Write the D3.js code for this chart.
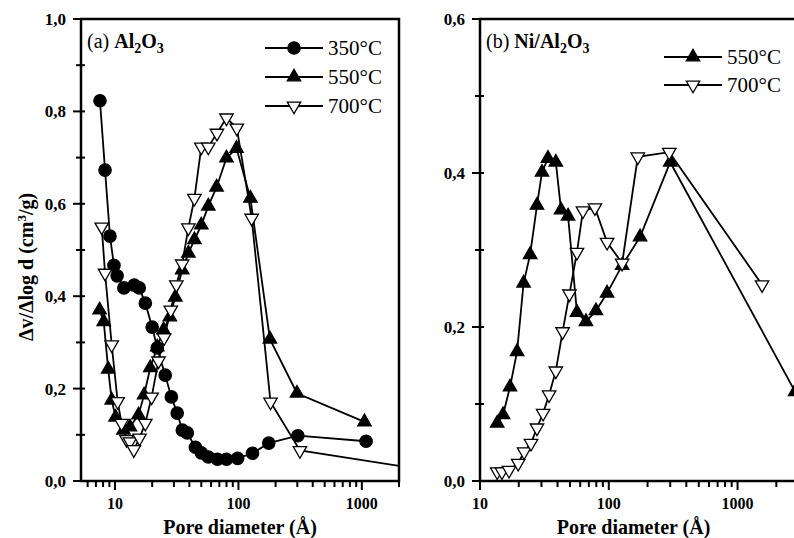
<!DOCTYPE html>
<html>
<head>
<meta charset="utf-8">
<script src="https://cdn.jsdelivr.net/npm/d3@7"></script>
<style>
  body { margin: 0; background: #fff; }
  svg { display: block; }
  text { font-family: "Liberation Serif", "Times New Roman", serif; fill: #000; }
</style>
</head>
<body>
<div id="chart"></div>
<script>
// Panel (a) Al2O3 : [pore diameter (Å), dv/dlog d]
const a350 = [[7.55,0.823],[8.3,0.673],[9.1,0.53],[9.8,0.467],[10.4,0.444],[11.8,0.418],[14.3,0.424],[15.7,0.418],
  [17.6,0.385],[20,0.333],[22,0.288],[25.5,0.229],[28.6,0.182],[31.9,0.147],[35.1,0.11],[38.5,0.104],[44.8,0.073],
  [50,0.061],[57,0.052],[67.6,0.047],[80,0.047],[98.5,0.049],[130,0.06],[176,0.082],[303,0.098],[1082,0.086]];
const a550 = [[7.5,0.37],[8.1,0.345],[8.8,0.242],[9.4,0.175],[10.1,0.138],[11.7,0.11],[13.2,0.117],[15.5,0.143],
  [17.2,0.186],[19.3,0.245],[22,0.29],[24.7,0.327],[27.8,0.355],[30.8,0.398],[35,0.457],[39.3,0.493],[44,0.522],
  [50,0.554],[57,0.595],[66.5,0.636],[80,0.699],[96.5,0.72],[125,0.612],[180,0.307],[298,0.19],[1050,0.128]];
const a700 = [[7.8,0.55],[8.3,0.45],[9.4,0.295],[10.5,0.172],[11.3,0.125],[12.4,0.09],[13.2,0.085],[14.2,0.068],
  [15.8,0.093],[17.6,0.125],[19.8,0.182],[22.5,0.26],[25,0.31],[28.3,0.37],[31.4,0.425],[35,0.47],[39.3,0.548],
  [44,0.612],[50,0.723],[57,0.723],[67,0.753],[80,0.786],[97,0.764],[128,0.569],[182,0.171],[315,0.066],[4000,0.02]];

// Panel (b) Ni/Al2O3
const b550 = [[13.6,0.075],[15.1,0.086],[17.1,0.122],[19.4,0.168],[21.8,0.257],[24.5,0.294],[27.7,0.358],[30.3,0.401],
  [33.7,0.419],[38.8,0.414],[42.6,0.352],[48.3,0.344],[56.6,0.219],[66.5,0.207],[79.5,0.221],[97,0.244],[127,0.28],
  [175,0.317],[300,0.414],[2800,0.116]];
const b700 = [[13.6,0.012],[14.8,0.012],[16.8,0.014],[19.8,0.023],[22,0.038],[24.9,0.049],[27.7,0.069],[30.9,0.088],
  [34.4,0.112],[38.8,0.143],[43.8,0.194],[49.5,0.243],[56.6,0.297],[63,0.351],[78,0.355],[97,0.31],[127,0.283],
  [168,0.421],[295,0.427],[1550,0.255]];

const xMajor = [10, 100, 1000];
const legendA = ["350\u00B0C", "550\u00B0C", "700\u00B0C"];
const legendB = ["550\u00B0C", "700\u00B0C"];

const W = 794, H = 538;
const svg = d3.select("#chart").append("svg").attr("width", W).attr("height", H);

const markers = {
  circle: { type: d3.symbolCircle, size: 120, fill: "#000", rot: 0 },
  up: { type: d3.symbolTriangle, size: 78, fill: "#000", rot: 0 },
  down: { type: d3.symbolTriangle, size: 78, fill: "#fff", rot: 180 }
};

const fmt = v => d3.format(".1f")(v).replace(".", ",");

function drawPanel(p) {
  const g = svg.append("g");
  const x = d3.scaleLog().domain(p.xDomain).range([p.left, p.right]);
  const y = d3.scaleLinear().domain([0, p.yMax]).range([p.bottom, p.top]);

  const clipId = "clip-" + p.id;
  svg.append("clipPath").attr("id", clipId)
    .append("rect").attr("x", p.left).attr("y", p.top - 10)
    .attr("width", p.right - p.left).attr("height", p.bottom - p.top + 10);

  // y ticks
  const yMinor = d3.range(0, p.yMax + 0.001, 0.1);
  g.selectAll(".ytick").data(yMinor).join("line")
    .attr("x1", (d, i) => p.left - (i % 2 === 0 ? 8 : 5)).attr("x2", p.left + 4)
    .attr("y1", d => y(d)).attr("y2", d => y(d))
    .attr("stroke", "#000").attr("stroke-width", 2);
  g.selectAll(".ylab").data(yMinor.filter((d, i) => i % 2 === 0)).join("text")
    .attr("x", p.left - 15).attr("y", d => y(d) + 6)
    .attr("text-anchor", "end").attr("font-size", 17).attr("font-weight", "bold")
    .text(fmt);

  // x ticks (log, minor at 2..9)
  const lo = p.xDomain[0], hi = p.xDomain[1];
  const xt = [];
  for (let dec = 1; dec <= 1000; dec *= 10) {
    for (let k = 1; k <= 9; k++) {
      const v = k * dec;
      if (v >= lo && v <= hi) xt.push(v);
    }
  }
  g.selectAll(".xtick").data(xt).join("line")
    .attr("x1", d => x(d)).attr("x2", d => x(d))
    .attr("y1", p.bottom).attr("y2", d => p.bottom + (xMajor.includes(d) ? 9 : 6))
    .attr("stroke", "#000").attr("stroke-width", 2);
  g.selectAll(".xlab").data(xMajor).join("text")
    .attr("x", d => x(d)).attr("y", p.bottom + 28)
    .attr("text-anchor", "middle").attr("font-size", 16).attr("font-weight", "bold")
    .text(d => d);

  g.append("text")
    .attr("x", (p.left + p.right) / 2 + p.titleDx).attr("y", 534)
    .attr("text-anchor", "middle").attr("font-size", 20).attr("font-weight", "bold")
    .text("Pore diameter (\u00C5)");

  // series
  const line = d3.line().x(d => x(d[0])).y(d => y(d[1]));
  const plot = g.append("g").attr("clip-path", `url(#${clipId})`);
  p.series.forEach(s => {
    plot.append("path").datum(s.data).attr("d", line)
      .attr("fill", "none").attr("stroke", "#000").attr("stroke-width", 1.8);
  });
  p.series.forEach(s => {
    const m = markers[s.marker];
    plot.selectAll(null).data(s.data).join("path")
      .attr("d", d3.symbol().type(m.type).size(m.size))
      .attr("transform", d => `translate(${x(d[0])},${y(d[1])}) rotate(${m.rot})`)
      .attr("fill", m.fill).attr("stroke", "#000").attr("stroke-width", 1.3);
  });

  // frame
  g.append("rect").attr("x", p.left).attr("y", p.top)
    .attr("width", p.right - p.left).attr("height", p.bottom - p.top)
    .attr("fill", "none").attr("stroke", "#000").attr("stroke-width", 2.5);

  // panel label
  const lab = g.append("text").attr("x", p.left + 6).attr("y", p.top + 29).attr("font-size", 20);
  lab.append("tspan").text(p.labelPrefix);
  p.labelParts.forEach(t => {
    lab.append("tspan").attr("font-weight", "bold")
      .attr("font-size", t.sub ? 14 : 20)
      .attr("dy", t.sub ? 5 : (t.after ? -5 : 0))
      .text(t.text);
  });

  // legend
  p.series.forEach((s, i) => {
    const ly = p.legY + i * p.legStep;
    const m = markers[s.marker];
    g.append("line").attr("x1", p.legX).attr("x2", p.legX + 58)
      .attr("y1", ly).attr("y2", ly).attr("stroke", "#000").attr("stroke-width", 1.8);
    g.append("path").attr("d", d3.symbol().type(m.type).size(m.size)())
      .attr("transform", `translate(${p.legX + 29},${ly}) rotate(${m.rot})`)
      .attr("fill", m.fill).attr("stroke", "#000").attr("stroke-width", 1.3);
    g.append("text").attr("x", p.legX + 63).attr("y", ly + 7)
      .attr("font-size", 21).text(p.legend[i]);
  });
}

drawPanel({
  id: "a", left: 81, right: 399, top: 19, bottom: 481,
  xDomain: [5.3, 2000], yMax: 1.0, titleDx: 0,
  labelPrefix: "(a) ",
  labelParts: [{ text: "Al" }, { text: "2", sub: true }, { text: "O", after: true }, { text: "3", sub: true }],
  series: [
    { data: a350, marker: "circle" },
    { data: a550, marker: "up" },
    { data: a700, marker: "down" }
  ],
  legend: legendA, legX: 265, legY: 48, legStep: 29
});

drawPanel({
  id: "b", left: 480, right: 799, top: 19, bottom: 481,
  xDomain: [10, 3000], yMax: 0.6, titleDx: -6,
  labelPrefix: "(b) ",
  labelParts: [{ text: "Ni/Al" }, { text: "2", sub: true }, { text: "O", after: true }, { text: "3", sub: true }],
  series: [
    { data: b550, marker: "up" },
    { data: b700, marker: "down" }
  ],
  legend: legendB, legX: 664, legY: 57, legStep: 28
});

// y axis title (panel a only)
svg.append("text")
  .attr("transform", "translate(33,267) rotate(-90)")
  .attr("text-anchor", "middle").attr("font-size", 20).attr("font-weight", "bold")
  .text("\u0394v/\u0394log d (cm")
  .append("tspan").attr("font-size", 13).attr("dy", -7).text("3")
  .select(function () { return this.parentNode; })
  .append("tspan").attr("font-size", 20).attr("dy", 7).text("/g)");
</script>
</body>
</html>
